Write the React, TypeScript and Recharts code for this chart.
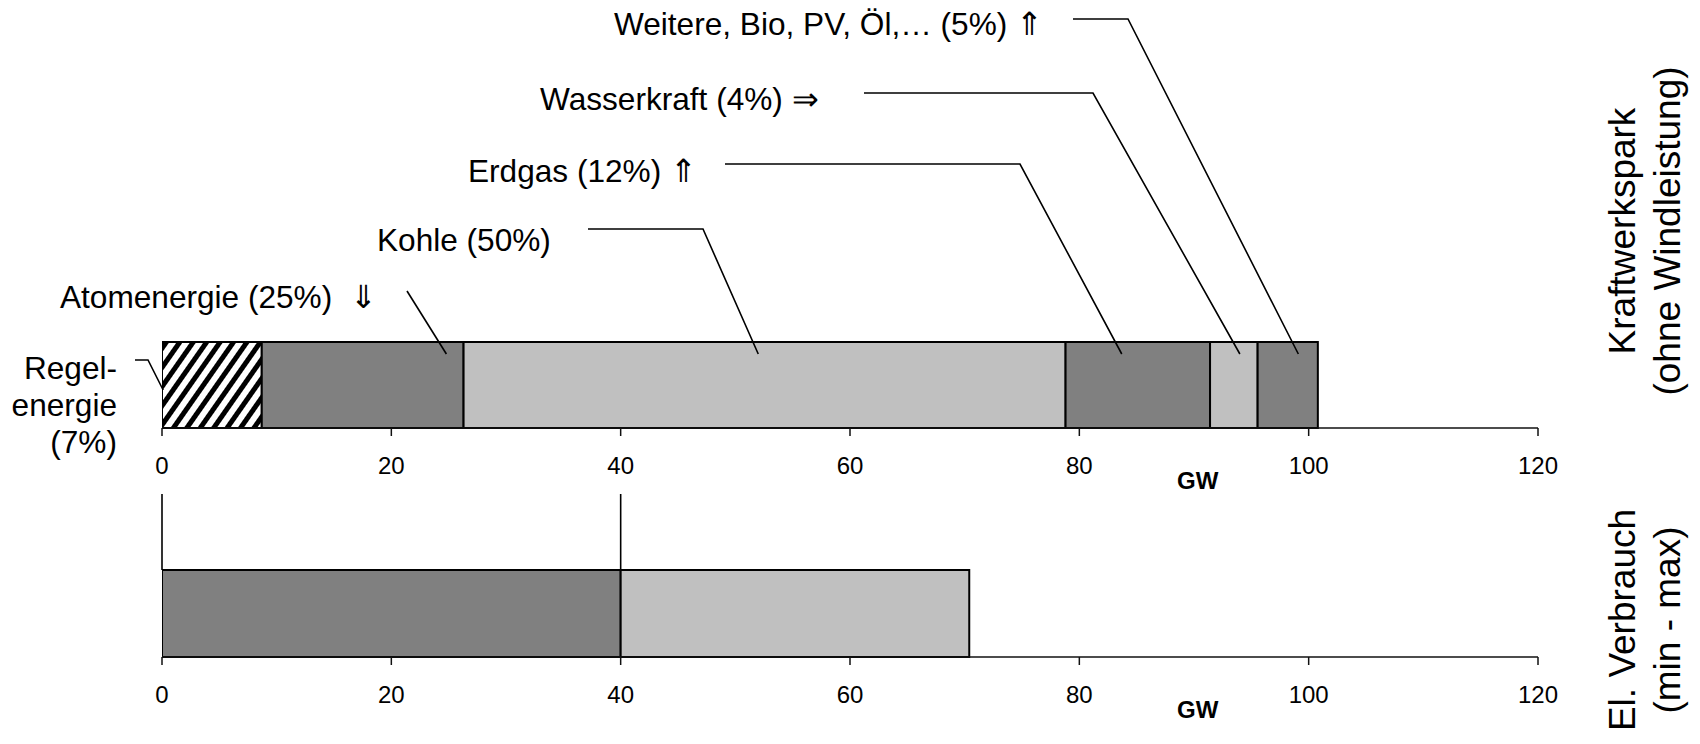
import React from 'react';
import { BarChart, Bar, XAxis, YAxis } from 'recharts';

// Kraftwerkspark (GW per block, stacked left to right)
const parkKeys = ['regel', 'atom', 'kohle', 'erdgas', 'wasser', 'weitere'];
const parkValues = [8.7, 17.6, 52.5, 12.6, 4.15, 5.25];

// El. Verbrauch: min load, then spread up to max load
const loadKeys = ['min', 'spread'];
const loadValues = [40, 30.4];

const axisTicks = [0, 20, 40, 60, 80, 100, 120];

const annotationTexts = [
  'Weitere, Bio, PV, Öl,… (5%) ⇑',
  'Wasserkraft (4%) ⇒',
  'Erdgas (12%) ⇑',
  'Kohle (50%)',
  'Atomenergie (25%)  ⇓',
];
// where each leader line touches its block, GW
const annotationAnchors = [99.1, 94.0, 83.7, 52.0, 24.8];
const regelLines = ['Regel-', 'energie', '(7%)'];
const regelAnchor = 0.1;

const sideTitles = [
  ['Kraftwerkspark', '(ohne Windleistung)'],
  ['El. Verbrauch', '(min - max)'],
];

// ---- layout ----
const W = 1700;
const H = 744;
const PLOT_LEFT = 162;
const PLOT_RIGHT = 1538;
const X_MAX = 120;
const FONT = '"Liberation Sans", Arial, Helvetica, sans-serif';

const toPx = (v: number) => PLOT_LEFT + (v / X_MAX) * (PLOT_RIGHT - PLOT_LEFT);

const parkFills = ['url(#hatch)', '#808080', '#c0c0c0', '#808080', '#c0c0c0', '#808080'];
const loadFills = ['#808080', '#c0c0c0'];

const parkRow: Record<string, any> = { name: 'park' };
parkKeys.forEach((k, i) => (parkRow[k] = parkValues[i]));
const loadRow: Record<string, any> = { name: 'load' };
loadKeys.forEach((k, i) => (loadRow[k] = loadValues[i]));

const Tick = (p: any) => (
  <text x={p.x} y={p.y + 36} textAnchor="middle" fontSize={24} fontFamily={FONT} fill="#000">
    {p.payload.value}
  </text>
);

// text layout for the labels above the top bar
const labelPos = [
  { x: 614, y: 35, lx: 1073, hx: 1128, ly: 19 },
  { x: 540, y: 110, lx: 864, hx: 1093, ly: 93 },
  { x: 468, y: 182, lx: 725, hx: 1020, ly: 164 },
  { x: 377, y: 251, lx: 588, hx: 703, ly: 229 },
  { x: 60, y: 308, lx: 407, hx: 407, ly: 291 },
];

export default function App() {
  const topBarTop = 342;
  const topAxis = 428;
  const botBarTop = 570;
  const botAxis = 657;

  const renderChart = (
    row: any,
    keys: string[],
    fills: string[],
    barTop: number,
    axisY: number,
    withDefs: boolean
  ) => {
    const axisH = 60;
    return (
      <div style={{ position: 'absolute', left: 0, top: 0 }}>
        <BarChart
          width={W}
          height={H}
          data={[row]}
          layout="vertical"
          barCategoryGap={0}
          margin={{ top: barTop, bottom: H - axisY - axisH, left: PLOT_LEFT, right: W - PLOT_RIGHT }}
        >
          {withDefs && (
            <defs>
              <pattern
                id="hatch"
                patternUnits="userSpaceOnUse"
                width="11"
                height="11"
                patternTransform="rotate(35)"
              >
                <rect width="11" height="11" fill="#fff" />
                <rect width="5" height="11" fill="#000" />
              </pattern>
            </defs>
          )}
          <XAxis
            type="number"
            domain={[0, X_MAX]}
            ticks={axisTicks}
            height={axisH}
            tickSize={8}
            tick={<Tick />}
            axisLine={{ stroke: '#111', strokeWidth: 1.5 }}
            tickLine={{ stroke: '#111', strokeWidth: 1.5 }}
            allowDataOverflow
          />
          <YAxis type="category" dataKey="name" hide />
          {keys.map((k, i) => (
            <Bar
              key={k}
              dataKey={k}
              stackId="s"
              fill={fills[i]}
              stroke="#000"
              strokeWidth={2}
              isAnimationActive={false}
            />
          ))}
        </BarChart>
      </div>
    );
  };

  return (
    <div
      style={{
        position: 'fixed',
        left: 0,
        top: 0,
        width: W,
        height: H,
        background: '#fff',
        overflow: 'hidden',
      }}
    >
      {renderChart(parkRow, parkKeys, parkFills, topBarTop, topAxis, true)}
      {renderChart(loadRow, loadKeys, loadFills, botBarTop, botAxis, false)}

      <svg
        width={W}
        height={H}
        style={{ position: 'absolute', left: 0, top: 0, pointerEvents: 'none' }}
        fontFamily={FONT}
      >
        {/* labels and leader lines for the Kraftwerkspark blocks */}
        {annotationTexts.map((t, i) => {
          const p = labelPos[i];
          const ex = toPx(annotationAnchors[i]);
          return (
            <g key={t}>
              <text x={p.x} y={p.y} fontSize={31.6} fill="#000" style={{ whiteSpace: 'pre' }}>
                {t}
              </text>
              <polyline
                points={`${p.lx},${p.ly} ${p.hx},${p.ly} ${ex},${354}`}
                fill="none"
                stroke="#000"
                strokeWidth={1.6}
              />
            </g>
          );
        })}

        {regelLines.map((t, i) => (
          <text key={t} x={117} y={379 + i * 37} fontSize={31.6} textAnchor="end" fill="#000">
            {t}
          </text>
        ))}
        <polyline
          points={`135,360 148,360 ${toPx(regelAnchor)},390`}
          fill="none"
          stroke="#000"
          strokeWidth={1.6}
        />

        {/* min / max markers above the consumption bar */}
        {[0, loadValues[0]].map((v) => (
          <line
            key={v}
            x1={toPx(v)}
            x2={toPx(v)}
            y1={494}
            y2={botBarTop}
            stroke="#000"
            strokeWidth={1.6}
          />
        ))}

        {/* unit labels */}
        {[topAxis, botAxis].map((ay) => (
          <text key={ay} x={1177} y={ay + 61} fontSize={24} fontWeight="bold" fill="#000">
            GW
          </text>
        ))}

        {/* side titles */}
        {sideTitles.map((lines, gi) => {
          const cy = gi === 0 ? 231 : 620;
          return lines.map((t, li) => {
            const bx = 1635 + li * 45;
            return (
              <text
                key={t}
                x={bx}
                y={cy}
                fontSize={37}
                textAnchor="middle"
                fill="#000"
                transform={`rotate(-90, ${bx}, ${cy})`}
              >
                {t}
              </text>
            );
          });
        })}
      </svg>
    </div>
  );
}
